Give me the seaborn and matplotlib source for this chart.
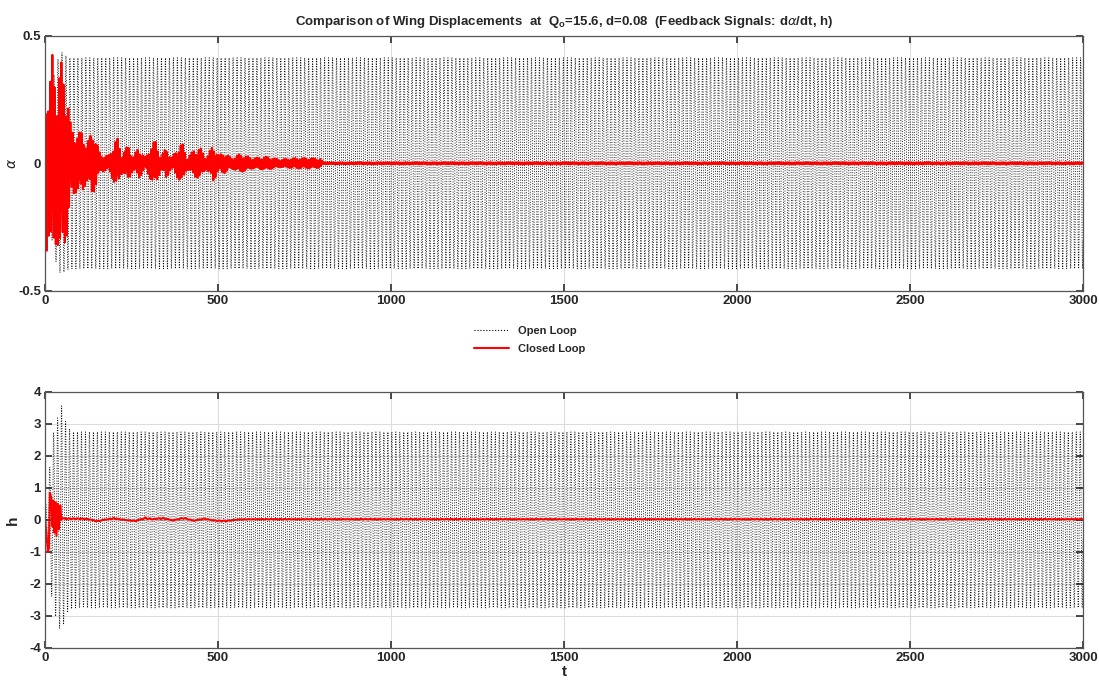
import numpy as np
import pandas as pd
import matplotlib
matplotlib.use("Agg")
import matplotlib.pyplot as plt
import seaborn as sns

# ---- time base and signal descriptors ----
t_end = 3000
dt = 0.25

# open loop: envelope knots (time, amplitude) and oscillation period
ol_alpha_knots_t = [0, 10, 20, 30, 40, 46, 52, 70, 3000]
ol_alpha_knots_a = [0.05, 0.15, 0.30, 0.38, 0.42, 0.44, 0.43, 0.415, 0.415]
ol_h_knots_t = [0, 10, 20, 30, 40, 47, 55, 65, 80, 3000]
ol_h_knots_a = [0.3, 1.2, 2.5, 3.0, 3.3, 3.6, 3.2, 2.9, 2.75, 2.75]
ol_period = 11.5

# closed loop alpha: bursty decaying envelope knots
cl_alpha_knots_t = [0, 5, 12, 20, 28, 35, 45, 55, 65, 75, 90, 105, 120, 135, 145, 160,
                    185, 195, 208, 222, 240, 255, 270, 290, 300, 318, 335, 350, 365,
                    380, 396, 410, 430, 448, 465, 486, 500, 515, 540, 563, 600, 640,
                    680, 720, 760, 795, 805, 3000]
cl_alpha_knots_a = [0.20, 0.33, 0.28, 0.42, 0.32, 0.30, 0.40, 0.32, 0.27, 0.13, 0.11,
                    0.12, 0.07, 0.12, 0.10, 0.03, 0.03, 0.06, 0.10, 0.03, 0.07, 0.025,
                    0.06, 0.02, 0.05, 0.09, 0.025, 0.06, 0.02, 0.05, 0.08, 0.02, 0.05,
                    0.06, 0.02, 0.07, 0.03, 0.04, 0.02, 0.035, 0.02, 0.025, 0.015,
                    0.02, 0.02, 0.018, 0.004, 0.004]
cl_alpha_period = 6.5
cl_alpha_ripple_period = 2.9

# closed loop h: early transient knots, then small slow wobble knots
cl_h_knots_t = [0, 3, 8, 11, 14, 18, 21, 24, 27, 30, 33, 37, 40, 44, 47, 50, 60]
cl_h_knots_a = [0.0, -0.3, -1.0, -0.9, 0.85, 0.7, -0.2, 0.6, -0.4, 0.55, -0.5, 0.5,
                -0.3, 0.45, 0.0, 0.05, 0.05]
cl_h_wobble_t = [60, 110, 130, 150, 180, 200, 230, 260, 290, 310, 340, 370, 400, 430,
                 460, 490, 520, 560, 600, 700, 3000]
cl_h_wobble_a = [0.05, 0.05, 0.02, -0.06, 0.03, 0.06, 0.0, -0.05, 0.08, 0.03, 0.07,
                 -0.02, 0.08, -0.03, 0.05, -0.03, -0.05, 0.02, 0.03, 0.03, 0.03]

t = np.arange(0, t_end + dt, dt)

ol_alpha = np.interp(t, ol_alpha_knots_t, ol_alpha_knots_a) * np.sin(2 * np.pi * t / ol_period)
ol_h = np.interp(t, ol_h_knots_t, ol_h_knots_a) * np.sin(2 * np.pi * t / ol_period + 0.6)

cl_alpha = np.interp(t, cl_alpha_knots_t, cl_alpha_knots_a) * (
    0.7 * np.sin(2 * np.pi * t / cl_alpha_period)
    + 0.35 * np.sin(2 * np.pi * t / cl_alpha_ripple_period))

early = t <= 60
cl_h = np.where(early, np.interp(t, cl_h_knots_t, cl_h_knots_a),
                np.interp(t, cl_h_wobble_t, cl_h_wobble_a)
                * (0.7 + 0.3 * np.sin(2 * np.pi * t / 13.0)))

df_a = pd.DataFrame({"t": np.concatenate([t, t]),
                     "v": np.concatenate([ol_alpha, cl_alpha]),
                     "loop": ["Open Loop"] * len(t) + ["Closed Loop"] * len(t)})
df_h = pd.DataFrame({"t": np.concatenate([t, t]),
                     "v": np.concatenate([ol_h, cl_h]),
                     "loop": ["Open Loop"] * len(t) + ["Closed Loop"] * len(t)})

sns.set_theme(style="ticks")
plt.rcParams["font.family"] = ["Liberation Sans", "DejaVu Sans"]
plt.rcParams["mathtext.fontset"] = "custom"
plt.rcParams["mathtext.rm"] = "Liberation Sans"
plt.rcParams["mathtext.bf"] = "Liberation Sans:bold"
plt.rcParams["mathtext.it"] = "DejaVu Sans:italic"

fig = plt.figure(figsize=(10.99, 6.87), dpi=100)
ax1 = fig.add_axes([0.041, 0.577, 0.9445, 0.3707])
ax2 = fig.add_axes([0.041, 0.057, 0.9445, 0.3725])

palette = {"Open Loop": "black", "Closed Loop": "#ff0000"}

for ax, df in ((ax1, df_a), (ax2, df_h)):
    for name in ["Open Loop", "Closed Loop"]:
        sub = df[df["loop"] == name]
        sns.lineplot(data=sub, x="t", y="v", ax=ax, estimator=None, sort=False,
                     color=palette[name],
                     lw=0.65 if name == "Open Loop" else 1.5,
                     linestyle=(0, (1, 1.8)) if name == "Open Loop" else "-",
                     label=name, legend=False)
    ax.set_xlim(0, 3000)
    ax.grid(True, color="#dcdcdc", lw=0.8)
    ax.set_axisbelow(True)
    for s in ax.spines.values():
        s.set_color("#555555")
        s.set_linewidth(0.9)
    ax.tick_params(direction="in", length=5, labelsize=9.5, color="#333333",
                   top=True, right=True, pad=3)
    ax.set_xlabel("")

ax1.set_ylim(-0.5, 0.5)
ax1.set_yticks([-0.5, 0, 0.5])
ax1.set_yticklabels(["-0.5", "0", "0.5"], fontweight="bold")
ax1.set_xticks(range(0, 3001, 500))
ax1.set_xticklabels([str(v) for v in range(0, 3001, 500)], fontweight="bold")
ax1.set_ylabel(r"$\alpha$", fontsize=10)
ax1.yaxis.set_label_coords(-0.025, 0.5)

ax2.set_ylim(-4, 4)
ax2.set_yticks(range(-4, 5))
ax2.set_yticklabels([str(v) for v in range(-4, 5)], fontweight="bold")
ax2.set_xticks(range(0, 3001, 500))
ax2.set_xticklabels([str(v) for v in range(0, 3001, 500)], fontweight="bold")
ax2.set_ylabel("h", fontsize=11, fontweight="bold")
ax2.yaxis.set_label_coords(-0.024, 0.5)
ax2.set_xlabel("t", fontsize=11, fontweight="bold", labelpad=1)

ax1.set_title(r"Comparison of Wing Displacements  at  Q$_\mathbf{o}$=15.6, d=0.08  (Feedback Signals: d$\alpha$/dt, h)",
              fontsize=9.5, fontweight="bold", pad=8)

handles, labels = ax1.get_legend_handles_labels()
leg = fig.legend(handles, labels, loc="center", bbox_to_anchor=(0.482, 0.505),
                 frameon=False, fontsize=8, handlelength=3.2, labelspacing=0.7)
for txt in leg.get_texts():
    txt.set_fontweight("bold")
leg.get_lines()[0].set_linewidth(0.8)
leg.get_lines()[0].set_linestyle(":")

fig.savefig("out.png", dpi=100)
